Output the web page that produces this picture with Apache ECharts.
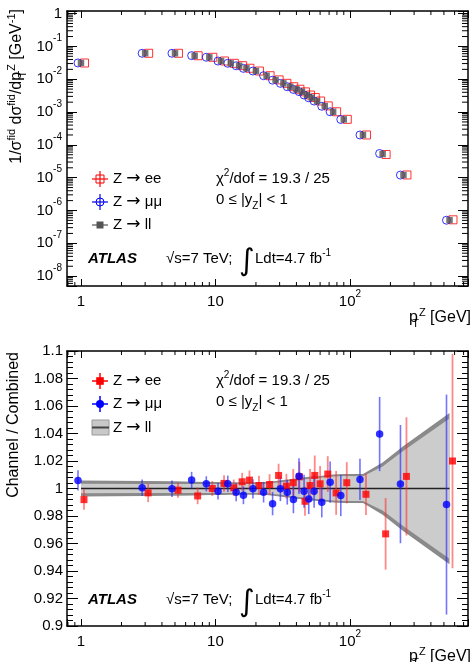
<!DOCTYPE html>
<html><head><meta charset="utf-8">
<script src="https://cdn.jsdelivr.net/npm/echarts@6/dist/echarts.min.js"></script>
<style>html,body{margin:0;padding:0;background:#fff}#c{width:475px;height:662px}</style>
</head><body><div id="c"></div>
<script>
// ---------- data ----------
const pT = [1,3,5,7,9,11,13,15,17,20,24,28,32,36,40,44,48,52,57,65,75,90,125,175,250,550];
const xsecLL = [0.0312,0.0617,0.0617,0.052,0.0465,0.0359,0.0305,0.0258,0.0215,0.0178,0.0128,0.00946,0.00749,0.0059,0.00492,0.00416,0.0033,0.00273,0.00216,0.00152,0.00102,0.000598,0.0002,5.24e-5,1.2e-5,5.1e-7];
const xsecEE = [0.0312,0.0617,0.0617,0.052,0.0466,0.036,0.0305,0.0259,0.0216,0.0178,0.0128,0.00955,0.0075,0.0059,0.00496,0.00412,0.0033,0.00276,0.00217,0.00154,0.00102,0.0006,0.0002,5.1e-5,1.21e-5,5.2e-7];
const xsecMM = [0.0313,0.0617,0.0617,0.0523,0.0467,0.0358,0.0306,0.0257,0.0214,0.0178,0.0128,0.00935,0.00749,0.0059,0.00488,0.0042,0.0033,0.00271,0.00216,0.0015,0.00102,0.000595,0.0002,5.45e-5,1.2e-5,5.05e-7];
const ratioEE = [0.9919,0.9968,0.9988,0.9946,1.0000,1.0037,1.0005,1.0049,1.0061,1.0022,1.0029,1.0095,1.0017,1.0042,1.0085,0.9907,1.0022,1.0095,1.0034,1.0105,0.9968,1.0042,0.9958,0.967,1.0088,1.020];
const errEE   = [0.0073,0.0067,0.0055,0.006,0.0055,0.006,0.006,0.0065,0.007,0.007,0.0075,0.0085,0.009,0.010,0.011,0.0105,0.012,0.0145,0.013,0.013,0.016,0.015,0.015,0.026,0.043,0.078];
const ratioMM = [1.0059,1.0005,0.9998,1.0061,1.0034,0.998,1.0034,0.9973,0.9951,0.9998,0.9973,0.989,0.9998,0.9973,0.992,1.009,0.998,0.9924,0.998,0.990,1.0046,0.9949,1.0066,1.0396,1.0032,0.9883];
const errMM   = [0.0073,0.006,0.006,0.006,0.0055,0.006,0.006,0.0065,0.0065,0.007,0.0075,0.0085,0.009,0.009,0.010,0.013,0.012,0.011,0.012,0.011,0.015,0.015,0.015,0.027,0.043,0.080];
const bandTotal = [0.0058,0.0055,0.0052,0.0050,0.0048,0.0047,0.0046,0.0046,0.0046,0.0046,0.0048,0.0055,0.0062,0.0068,0.0074,0.0079,0.0083,0.0087,0.0090,0.0095,0.0102,0.0105,0.0105,0.0190,0.0310,0.0550];
const bandInner = [0.0034,0.0033,0.0033,0.0033,0.0033,0.0033,0.0033,0.0033,0.0033,0.0033,0.0035,0.0041,0.0048,0.0054,0.0060,0.0065,0.0069,0.0073,0.0076,0.0081,0.0088,0.0091,0.0090,0.0160,0.0275,0.0510];
const xTickLabels = {0:'{n|1}', 1:'{n|10}', 2:'{n|10}{s|2}'};
const yTopTickLabels = {'-8':'{n|10}{s|-8}','-7':'{n|10}{s|-7}','-6':'{n|10}{s|-6}','-5':'{n|10}{s|-5}','-4':'{n|10}{s|-4}','-3':'{n|10}{s|-3}','-2':'{n|10}{s|-2}','-1':'{n|10}{s|-1}','0':'{n|1}'};
const minorMult = [2,3,4,5,6,7,8,9];

// ---------- helpers ----------
const FONT = 'Liberation Sans, Arial, Helvetica, sans-serif';
const X_MIN = 0.787, X_MAX = 755, YT_MIN = 5e-9, YT_MAX = 1.2;
const xMinor = [];
[0.1,1,10,100].forEach(d => minorMult.forEach(m => { const v = m*d; if (v > X_MIN && v < X_MAX) xMinor.push(v); }));
const yMinor = [];
for (let e = -9; e <= 0; e++) minorMult.forEach(m => { const v = m*Math.pow(10,e); if (v > YT_MIN && v < YT_MAX) yMinor.push(v); });

const richLab = {
  n: {fontSize: 15, fontFamily: FONT, color: '#000', lineHeight: 26},
  s: {fontSize: 10, fontFamily: FONT, color: '#000', lineHeight: 12, verticalAlign: 'top'}
};
function isDecade(v){ const l = Math.log10(v); return Math.abs(l - Math.round(l)) < 1e-6; }

function xAxisDef(gi, pos, show){
  return {type:'log', logBase:10, gridIndex:gi, position:pos, min:X_MIN, max:X_MAX,
    axisLine:{show:true, onZero:false, lineStyle:{color:'#000', width:1.5}},
    axisTick:{show:true, inside:true, length:7, lineStyle:{color:'#000', width:1}},
    axisLabel:{show:show, margin:3, rich:richLab, formatter: v => isDecade(v) ? (xTickLabels[Math.round(Math.log10(v))]||'') : ''},
    splitLine:{show:false}, minorTick:{show:false}};
}
function minorTickSeries(xi, yi, vals, dir, len){
  return {type:'custom', xAxisIndex:xi, yAxisIndex:yi, silent:true, z:10, clip:false,
    data: vals.map(v => dir==='x' ? [v, 1] : [1, v]),
    renderItem: (params, api) => {
      const cs = params.coordSys;
      const p = api.coord([api.value(0), api.value(1)]);
      const st = {stroke:'#000', lineWidth:1};
      if (dir === 'x') {
        const yb = cs.y + cs.height, yt = cs.y;
        return {type:'group', children:[
          {type:'line', shape:{x1:p[0], y1:yb, x2:p[0], y2:yb-len}, style:st},
          {type:'line', shape:{x1:p[0], y1:yt, x2:p[0], y2:yt+len}, style:st}]};
      }
      const xl = cs.x, xr = cs.x + cs.width;
      return {type:'group', children:[
        {type:'line', shape:{x1:xl, y1:p[1], x2:xl+len, y2:p[1]}, style:st},
        {type:'line', shape:{x1:xr, y1:p[1], x2:xr-len, y2:p[1]}, style:st}]};
    }};
}
function errSeries(vals, errs, offset, color, width){
  return {type:'custom', xAxisIndex:2, yAxisIndex:2, silent:true, z:4, clip:true,
    data: pT.map((x,i) => [x, vals[i], errs[i]]),
    renderItem: (params, api) => {
      const x = api.value(0), y = api.value(1), e = api.value(2);
      const a = api.coord([x, y + e]), b = api.coord([x, y - e]);
      return {type:'line', shape:{x1:a[0]+offset, y1:a[1], x2:b[0]+offset, y2:b[1]}, style:{stroke:color, lineWidth:width}};
    }};
}
// band drawn as one polygon through the axis scales (the series data are the band half-widths)
function bandSeries(widths, color, z){
  return {type:'custom', xAxisIndex:2, yAxisIndex:2, silent:true, z:z, clip:true,
    data: pT.map((x,i) => [x, 1, widths[i]]),
    renderItem: (params, api) => {
      if (params.dataIndex !== 0) return null;
      const up = [], lo = [];
      for (let i = 0; i < pT.length; i++) {
        up.push(api.coord([pT[i], 1 + widths[i]]));
        lo.unshift(api.coord([pT[i], 1 - widths[i]]));
      }
      return {type:'polygon', shape:{points: up.concat(lo)}, style:{fill:color}};
    }};
}

// ---------- text / legend graphics ----------
const RICH = {
  s:{fontSize:10, fontFamily:FONT, lineHeight:10, verticalAlign:'top'},
  b:{fontSize:10, fontFamily:FONT, lineHeight:10, verticalAlign:'bottom'},
  a:{fontSize:15, fontFamily:FONT, lineHeight:22},
  r:{fontSize:17, fontFamily:'DejaVu Sans', lineHeight:22},
  t:{fontSize:16, fontFamily:FONT, lineHeight:22},
  ts:{fontSize:11, fontFamily:FONT, lineHeight:10, verticalAlign:'top'},
  bw:{fontSize:10, fontFamily:FONT, lineHeight:10, verticalAlign:'bottom', width:1},
  tbw:{fontSize:11, fontFamily:FONT, lineHeight:10, verticalAlign:'bottom', width:1}
};
const txt = (x, y, text, st, rot) => ({type:'text', x, y, rotation: rot||0, silent:true, z:100,
  style: Object.assign({text, fontSize:15, fontFamily:FONT, fill:'#000', align:'left', verticalAlign:'middle', rich:RICH}, st||{})});
const ln = (x1,y1,x2,y2,c,w) => ({type:'line', silent:true, z:100, shape:{x1,y1,x2,y2}, style:{stroke:c, lineWidth:w||1.2}});

const gfx = [];
// top legend
gfx.push(ln(92,179,108,179,'#f00'), ln(100,171,100,187,'#f00'));
gfx.push({type:'rect', z:101, silent:true, shape:{x:96,y:175,width:8,height:8}, style:{fill:'rgba(0,0,0,0)', stroke:'#f00', lineWidth:1}});
gfx.push(ln(92,202,108,202,'#00f'), ln(100,194,100,210,'#00f'));
gfx.push({type:'circle', z:101, silent:true, shape:{cx:100,cy:202,r:4}, style:{fill:'rgba(0,0,0,0)', stroke:'#00f', lineWidth:1}});
gfx.push(ln(92,225,108,225,'#555'));
gfx.push({type:'rect', z:101, silent:true, shape:{x:96.5,y:221.5,width:7,height:7}, style:{fill:'#555'}});
gfx.push(txt(113,179,'{a|Z }{r|→}{a| ee}'), txt(113,202,'{a|Z }{r|→}{a| μμ}'), txt(113,225,'{a|Z }{r|→}{a| ll}'));
gfx.push(txt(216,179,'{a|χ}{s|2}{a|/dof = 19.3 / 25}'), txt(216,200,'{a|0 ≤ |y}{b|Z}{a|| < 1}'));
gfx.push(txt(88,259,'ATLAS',{fontWeight:'bold', fontStyle:'italic'}));
gfx.push(txt(166,259,'√s=7 TeV;'));
gfx.push(txt(239,262,'∫',{fontSize:30, fontFamily:'DejaVu Sans'}));
gfx.push(txt(255,259,'{a|Ldt=4.7 fb}{s|-1}'));
// bottom legend
gfx.push(ln(92,381,108,381,'#f00',1.5), ln(100,373,100,389,'#f00',1.5));
gfx.push({type:'rect', z:101, silent:true, shape:{x:96.2,y:377.2,width:7.6,height:7.6}, style:{fill:'#f00'}});
gfx.push(ln(92,404,108,404,'#00f',1.5), ln(100,396,100,412,'#00f',1.5));
gfx.push({type:'circle', z:101, silent:true, shape:{cx:100,cy:404,r:4}, style:{fill:'#00f'}});
gfx.push({type:'rect', z:100, silent:true, shape:{x:92,y:420,width:17,height:15}, style:{fill:'#c8c8c8', stroke:'#9a9a9a', lineWidth:1}});
gfx.push(ln(92,427.5,109,427.5,'#444',2));
gfx.push(txt(113,381,'{a|Z }{r|→}{a| ee}'), txt(113,404,'{a|Z }{r|→}{a| μμ}'), txt(113,428,'{a|Z }{r|→}{a| ll}'));
gfx.push(txt(216,381,'{a|χ}{s|2}{a|/dof = 19.3 / 25}'), txt(216,402,'{a|0 ≤ |y}{b|Z}{a|| < 1}'));
gfx.push(txt(88,600,'ATLAS',{fontWeight:'bold', fontStyle:'italic'}));
gfx.push(txt(166,600,'√s=7 TeV;'));
gfx.push(txt(239,603,'∫',{fontSize:30, fontFamily:'DejaVu Sans'}));
gfx.push(txt(255,600,'{a|Ldt=4.7 fb}{s|-1}'));
// axis titles
gfx.push(txt(17,9,'{t|1/σ}{ts|fid}{t| dσ}{ts|fid}{t|/dp}{tbw|T}{ts|Z}{t| [GeV}{ts|-1}{t|]}',{align:'right'}, Math.PI/2));
gfx.push(txt(14,352,'{t|Channel / Combined}',{align:'right'}, Math.PI/2));
gfx.push(txt(471,318,'{t|p}{tbw|T}{ts|Z}{t| [GeV]}',{align:'right'}));
gfx.push(txt(471,657,'{t|p}{tbw|T}{ts|Z}{t| [GeV]}',{align:'right'}));

// ---------- option ----------
const chart = echarts.init(document.getElementById('c'), null, {renderer:'canvas'});
const option = {
  animation:false, backgroundColor:'#fff',
  textStyle:{fontFamily:FONT},
  grid:[
    {left:67, top:11, right:7, bottom:376, containLabel:false, outerBoundsMode:'none'},
    {left:67, top:351, right:7, bottom:36, containLabel:false, outerBoundsMode:'none'}
  ],
  xAxis:[xAxisDef(0,'bottom',true), xAxisDef(0,'top',false), xAxisDef(1,'bottom',true), xAxisDef(1,'top',false)],
  yAxis:[
    {type:'log', logBase:10, gridIndex:0, position:'left', min:YT_MIN, max:YT_MAX,
     axisLine:{show:true, onZero:false, lineStyle:{color:'#000', width:1.5}},
     axisTick:{show:true, inside:true, length:10, lineStyle:{color:'#000', width:1}},
     axisLabel:{margin:5, rich:richLab, formatter: v => isDecade(v) ? (yTopTickLabels[String(Math.round(Math.log10(v)))]||'') : ''},
     splitLine:{show:false}},
    {type:'log', logBase:10, gridIndex:0, position:'right', min:YT_MIN, max:YT_MAX,
     axisLine:{show:true, onZero:false, lineStyle:{color:'#000', width:1.5}},
     axisTick:{show:true, inside:true, length:10, lineStyle:{color:'#000', width:1}},
     axisLabel:{show:false}, splitLine:{show:false}},
    {type:'value', gridIndex:1, position:'left', min:0.9, max:1.1, interval:0.02,
     axisLine:{show:true, onZero:false, lineStyle:{color:'#000', width:1.5}},
     axisTick:{show:true, inside:true, length:11, lineStyle:{color:'#000', width:1}},
     minorTick:{show:true, splitNumber:5, length:6, lineStyle:{color:'#000', width:1}},
     axisLabel:{margin:4, fontSize:15, color:'#000', fontFamily:FONT},
     splitLine:{show:false}, minorSplitLine:{show:false}},
    {type:'value', gridIndex:1, position:'right', min:0.9, max:1.1, interval:0.02,
     axisLine:{show:true, onZero:false, lineStyle:{color:'#000', width:1.5}},
     axisTick:{show:true, inside:true, length:11, lineStyle:{color:'#000', width:1}},
     minorTick:{show:true, splitNumber:5, length:6, lineStyle:{color:'#000', width:1}},
     axisLabel:{show:false}, splitLine:{show:false}, minorSplitLine:{show:false}}
  ],
  graphic: gfx,
  series:[
    minorTickSeries(0,0,xMinor,'x',4),
    minorTickSeries(0,0,yMinor,'y',6),
    minorTickSeries(2,2,xMinor,'x',4),
    // top panel
    {type:'scatter', xAxisIndex:0, yAxisIndex:0, z:5, symbol:'rect', symbolSize:8, symbolOffset:[3.5,0],
     itemStyle:{color:'rgba(255,255,255,0)', borderColor:'#f00', borderWidth:1}, data:pT.map((x,i)=>[x,xsecEE[i]])},
    {type:'scatter', xAxisIndex:0, yAxisIndex:0, z:6, symbol:'circle', symbolSize:8, symbolOffset:[-3,0],
     itemStyle:{color:'rgba(255,255,255,0)', borderColor:'#00f', borderWidth:1}, data:pT.map((x,i)=>[x,xsecMM[i]])},
    {type:'scatter', xAxisIndex:0, yAxisIndex:0, z:7, symbol:'rect', symbolSize:6.5,
     itemStyle:{color:'#555'}, data:pT.map((x,i)=>[x,xsecLL[i]])},
    // bottom panel band
    bandSeries(bandTotal, '#8a8a8a', 1),
    bandSeries(bandInner, '#cccccc', 2),
    {type:'line', xAxisIndex:2, yAxisIndex:2, z:3, symbol:'none', lineStyle:{color:'#222', width:1.6},
     data:pT.map(x=>[x,1])},
    errSeries(ratioEE, errEE, 3, 'rgba(255,40,40,0.55)', 1.8),
    errSeries(ratioMM, errMM, -3, 'rgba(40,40,255,0.65)', 1.6),
    {type:'scatter', xAxisIndex:2, yAxisIndex:2, z:5, symbol:'rect', symbolSize:7, symbolOffset:[3,0],
     itemStyle:{color:'#f00'}, data:pT.map((x,i)=>[x,ratioEE[i]])},
    {type:'scatter', xAxisIndex:2, yAxisIndex:2, z:6, symbol:'circle', symbolSize:7.5, symbolOffset:[-3,0],
     itemStyle:{color:'#00f'}, data:pT.map((x,i)=>[x,ratioMM[i]])}
  ]
};
chart.setOption(option);
</script></body></html>
